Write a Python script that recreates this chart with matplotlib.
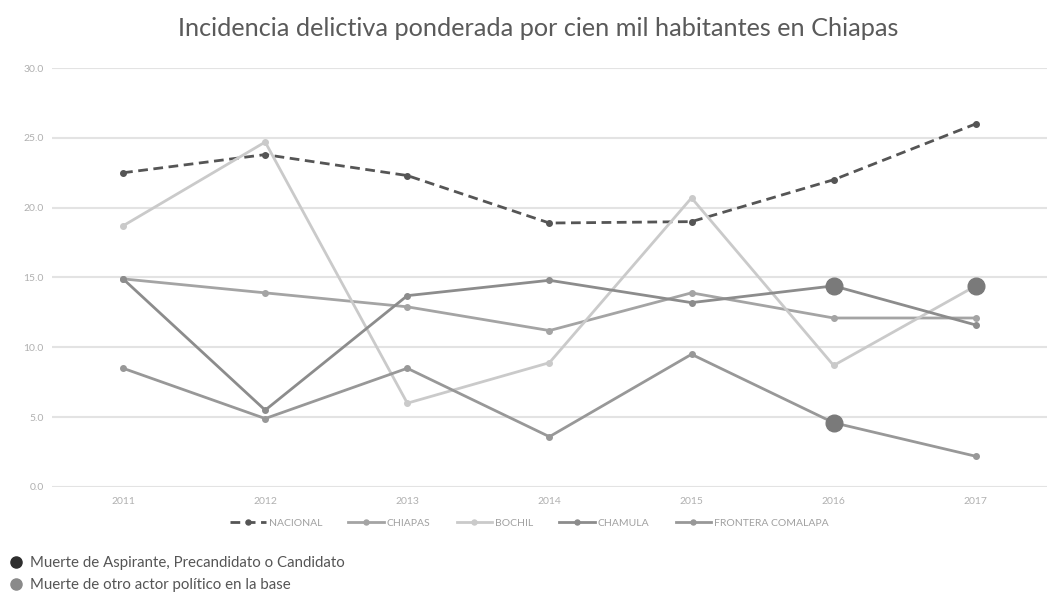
import matplotlib.pyplot as plt
from matplotlib.lines import Line2D

plt.rcParams['font.family'] = ['Lato', 'DejaVu Sans']

years = ['2011', '2012', '2013', '2014', '2015', '2016', '2017']
nacional = [22.5, 23.8, 22.3, 18.9, 19.0, 22.0, 26.0]
chiapas = [14.9, 13.9, 12.9, 11.2, 13.9, 12.1, 12.1]
bochil = [18.7, 24.7, 6.0, 8.9, 20.7, 8.7, 14.4]
chamula = [14.9, 5.5, 13.7, 14.8, 13.2, 14.4, 11.6]
frontera = [8.5, 4.9, 8.5, 3.6, 9.5, 4.6, 2.2]

# municipio, año con muerte de otro actor político
eventos = [('CHAMULA', '2016'), ('FRONTERA COMALAPA', '2016'), ('BOCHIL', '2017')]

yticks = [0, 5, 10, 15, 20, 25, 30]

series = [
    ('NACIONAL', nacional, '#555555', '--'),
    ('CHIAPAS', chiapas, '#a4a4a4', '-'),
    ('BOCHIL', bochil, '#cacaca', '-'),
    ('CHAMULA', chamula, '#8c8c8c', '-'),
    ('FRONTERA COMALAPA', frontera, '#989898', '-'),
]

fig = plt.figure(figsize=(10.51, 5.93), dpi=100)
ax = fig.add_axes([0.0495, 0.1788, 0.9465, 0.7065])

x = list(range(len(years)))
values = {}
for name, vals, color, ls in series:
    values[name] = vals
    ax.plot(x, vals, color=color, ls=ls, lw=2.0, marker='o', ms=4,
            dashes=(3.5, 2) if ls == '--' else (None, None),
            label=name, zorder=3, clip_on=False)

for name, year in eventos:
    i = years.index(year)
    ax.plot(i, values[name][i], 'o', ms=12, color='#7a7a7a', zorder=4)

ax.set_xlim(-0.5, len(years) - 0.5)
ax.set_ylim(0, 30)
ax.set_yticks(yticks)
ax.set_yticklabels([f'{v:.1f}' for v in yticks])
ax.set_xticks(x)
ax.set_xticklabels(years)
ax.tick_params(length=0, labelsize=7.5, labelcolor='#b0b0b0')
ax.tick_params(axis='x', pad=7)
ax.tick_params(axis='y', pad=6)
ax.grid(axis='y', color='#e3e3e3', lw=1.5)
ax.set_axisbelow(True)
for s in ax.spines.values():
    s.set_visible(False)

fig.text(0.512, 0.952, 'Incidencia delictiva ponderada por cien mil habitantes en Chiapas',
         ha='center', va='center', fontsize=18.2, color='#5a5a5a')

ax.legend(loc='center', bbox_to_anchor=(0.48, -0.086), ncol=5, frameon=False,
          fontsize=7.5, labelcolor='#a0a0a0', handlelength=3.4, columnspacing=2.5,
          handletextpad=0.3, markerscale=0.9)

# leyenda de eventos
fig.legend(handles=[
    Line2D([], [], ls='', marker='o', ms=8, color='#2e2e2e',
           label='Muerte de Aspirante, Precandidato o Candidato'),
    Line2D([], [], ls='', marker='o', ms=8, color='#8a8a8a',
           label='Muerte de otro actor político en la base'),
], loc='lower left', bbox_to_anchor=(-0.005, -0.021), frameon=False, fontsize=10.8,
    labelcolor='#555555', handlelength=1.0, handletextpad=0.45, labelspacing=0.5)

fig.savefig('out.png', dpi=100, facecolor='white')
